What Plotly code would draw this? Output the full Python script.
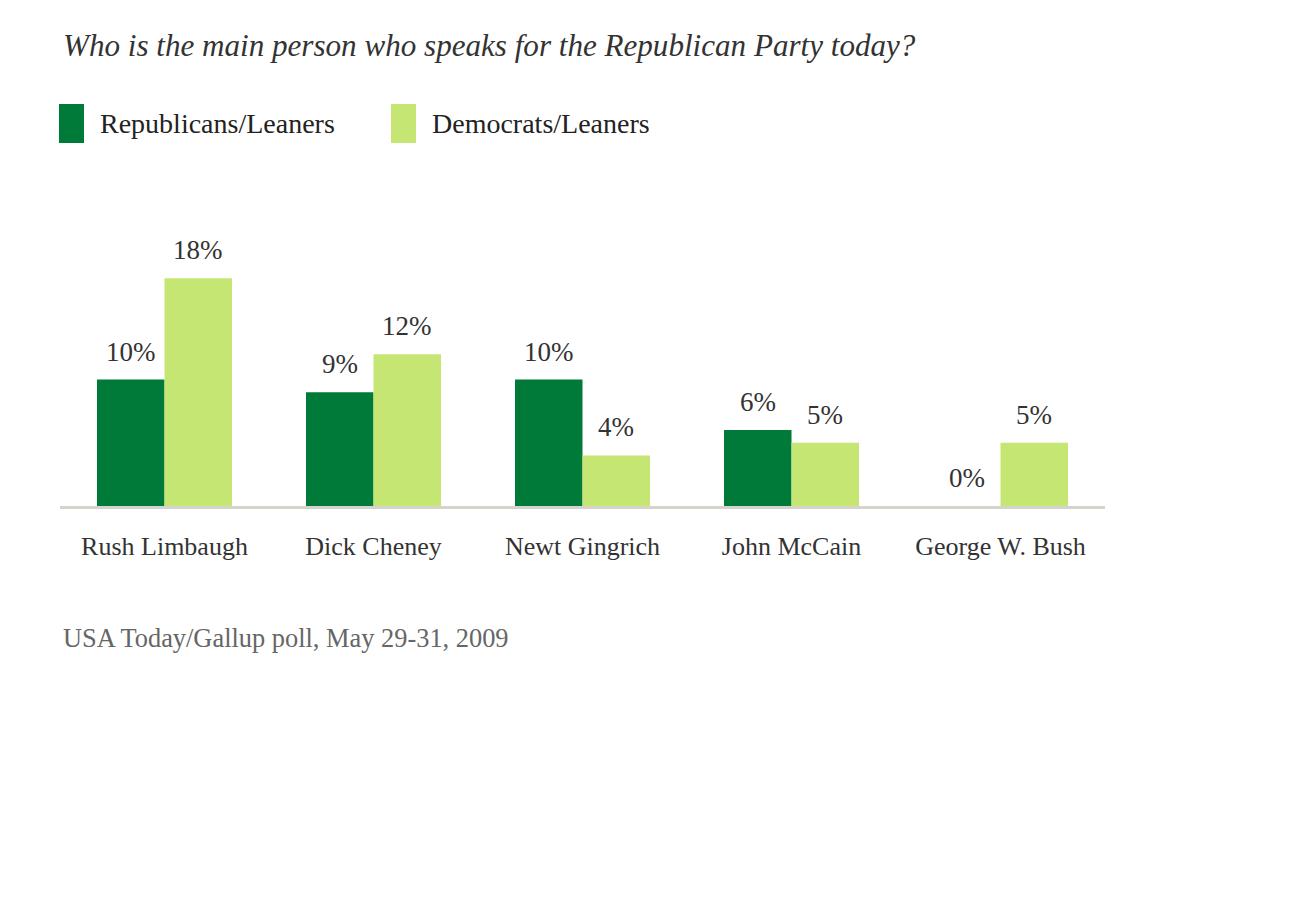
import plotly.graph_objects as go

categories = ["Rush Limbaugh", "Dick Cheney", "Newt Gingrich", "John McCain", "George W. Bush"]
republicans = [10, 9, 10, 6, 0]
democrats = [18, 12, 4, 5, 5]
series_names = ["Republicans/Leaners", "Democrats/Leaners"]
colors = ["#007a38", "#c6e673"]

title_text = "Who is the main person who speaks for the Republican Party today?"
source_text = "USA Today/Gallup poll, May 29-31, 2009"

SERIF = "Liberation Serif, Times New Roman, serif"

fig = go.Figure()
for name, vals, col in zip(series_names, [republicans, democrats], colors):
    fig.add_trace(go.Bar(
        x=categories, y=vals, name=name,
        marker=dict(color=col, line=dict(width=0)),
        showlegend=False,
    ))

# value labels
for i, vals in enumerate([republicans, democrats]):
    shift = -33.8 if i == 0 else 33.8
    for c, v in zip(categories, vals):
        fig.add_annotation(
            x=c, y=v, text=f"{v}%", showarrow=False,
            xshift=shift, yshift=28, yanchor="middle",
            font=dict(family=SERIF, size=27, color="#333333"),
        )

W, H = 1296, 900
OFF = 8  # page offset
ml, mr, mt, mb = 60 - OFF, 191 + OFF, 253 - OFF, 394 + OFF
PW = W - ml - mr
PH = H - mt - mb
BASE = 506  # baseline pixel in reference


def fx(p):
    return (p - 60) / PW


def fy(p):
    return (BASE - p) / PH


legend_items = [(59, 84, 98), (391, 416, 430)]
for (x0, x1, tx), name, col in zip(legend_items, series_names, colors):
    fig.add_shape(type="rect", xref="paper", yref="paper",
                  x0=fx(x0), x1=fx(x1), y0=fy(143), y1=fy(104),
                  fillcolor=col, line=dict(width=0))
    fig.add_annotation(xref="paper", yref="paper",
                       x=fx(tx), y=fy(123),
                       xanchor="left", yanchor="middle", showarrow=False,
                       text=name, font=dict(family=SERIF, size=28, color="#222222"))

fig.add_annotation(xref="paper", yref="paper",
                   x=fx(61), y=fy(45),
                   xanchor="left", yanchor="middle", showarrow=False,
                   text=f"<i>{title_text}</i>",
                   font=dict(family=SERIF, size=31.1, color="#333333"))

fig.add_annotation(xref="paper", yref="paper",
                   x=fx(61), y=fy(638),
                   xanchor="left", yanchor="middle", showarrow=False,
                   text=source_text,
                   font=dict(family=SERIF, size=26.4, color="#666666"))

fig.update_layout(
    width=W, height=H,
    margin=dict(l=ml, r=mr, t=mt, b=mb, pad=0),
    paper_bgcolor="white", plot_bgcolor="white",
    barmode="group", bargap=0.354, bargroupgap=0,
    xaxis=dict(showline=True, linecolor="#d4d4cc", linewidth=3,
               ticks="", showgrid=False, zeroline=False,
               tickfont=dict(family=SERIF, size=26, color="#333333"),
               ticklabelstandoff=15, range=[-0.5, 4.5]),
    yaxis=dict(range=[0, 20], showgrid=False, zeroline=False,
               showticklabels=False, showline=False, ticks=""),
)

fig.write_html("out.html")
